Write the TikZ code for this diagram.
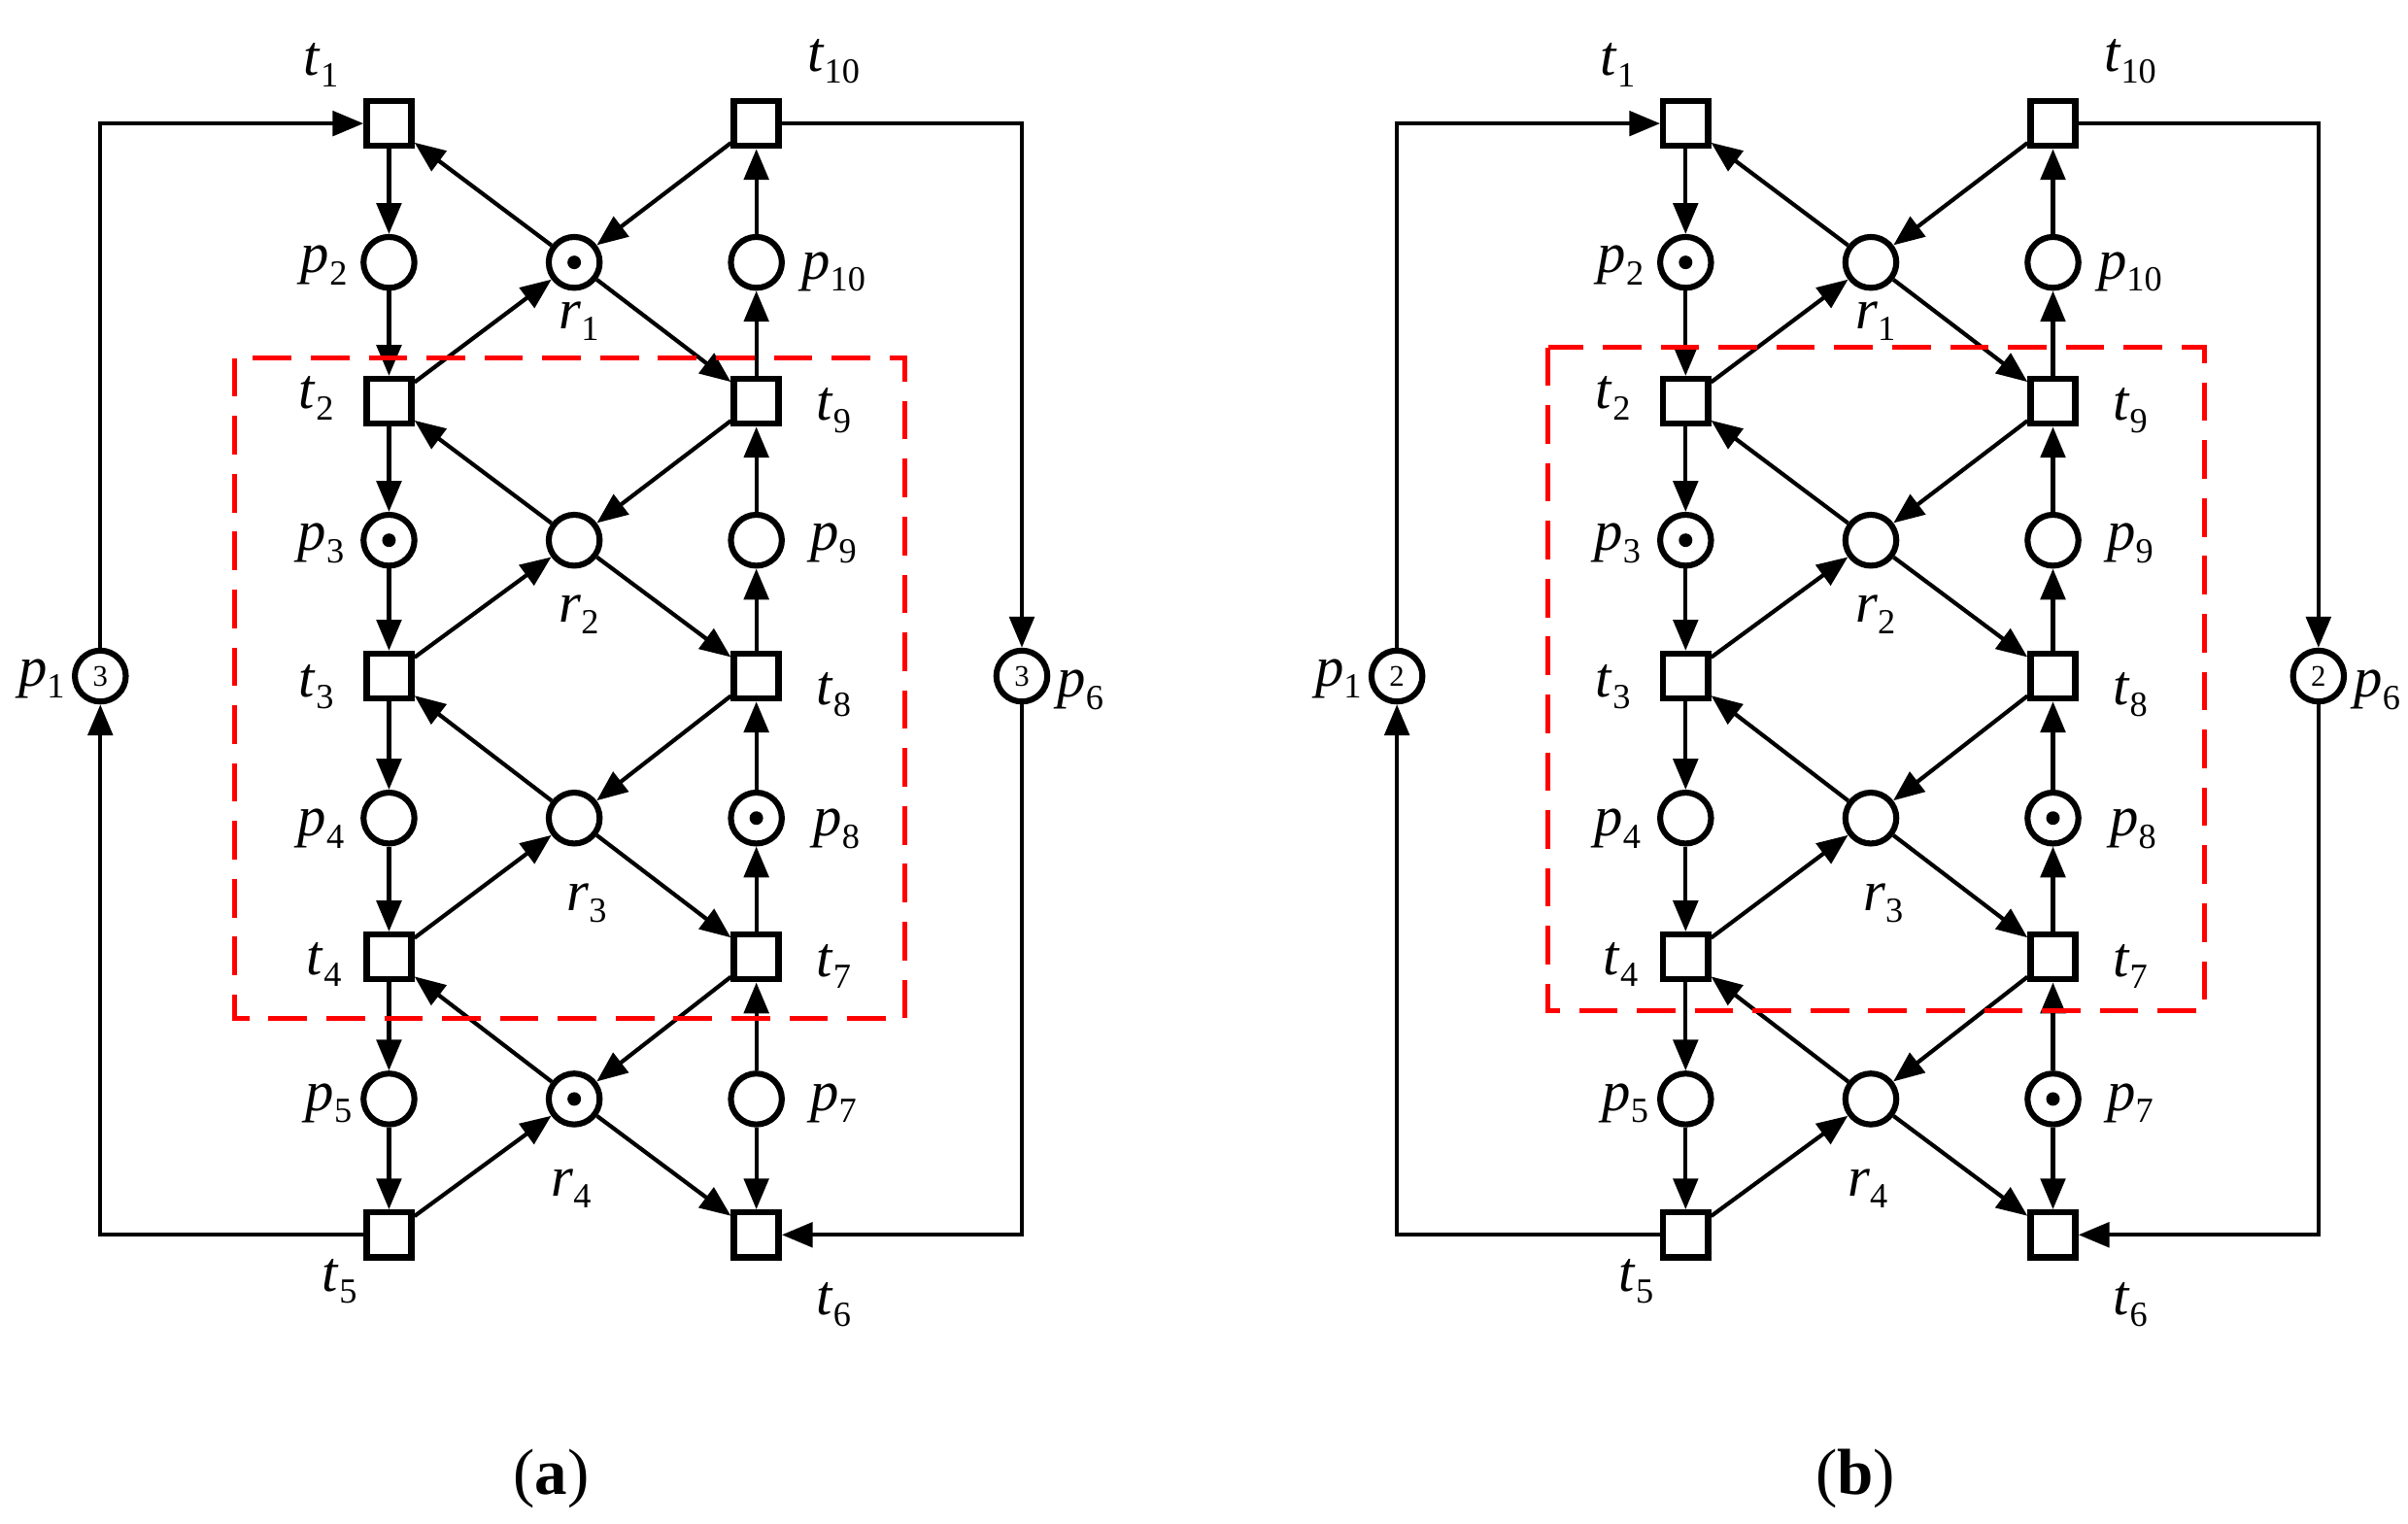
\documentclass[tikz,border=0pt]{standalone}
\usepackage{fontspec}
\setmainfont{Liberation Serif}
\usetikzlibrary{arrows.meta}
\newcommand\lab[2]{\textit{#1}\raisebox{-0.45ex}{\fontsize{13}{14}\selectfont #2}}
\tikzset{
  tr/.style={draw,line width=2.3pt,minimum size=0.58cm,inner sep=0pt,fill=white},
  pl/.style={draw,circle,line width=2.2pt,minimum size=0.66cm,inner sep=0pt,fill=white},
  arc/.style={line width=1.5pt,-{Triangle[length=0.4cm,width=0.32cm]}},
  lb/.style={font=\fontsize{21}{24}\selectfont},
  box/.style={red,line width=1.8pt,dash pattern=on 0.5cm off 0.25cm},
}
\newcommand\mypanel[8]{%
\begin{scope}[xshift=#2*0.02cm]
\foreach \n/\x/\y in {t1/252/80,t10/490/80,t2/252/260,t9/490/260,t3/252/438,t8/490/438,t4/252/620,t7/490/620,t5/252/800,t6/490/800}
  \node[tr] (#1\n) at (\x,\y) {};
\foreach \n/\x/\y in {p2/252/170,r1/372/170,p10/490/170,p3/252/350,r2/372/350,p9/490/350,p4/252/530,r3/372/530,p8/490/530,p5/252/712,r4/372/712,p7/490/712}
  \node[pl] (#1\n) at (\x,\y) {};
\node[pl] (#1p1) at (65,438) {\fontsize{11}{12}\selectfont #3};
\node[pl] (#1p6) at (662,438) {\fontsize{11}{12}\selectfont #3};
\foreach \k in {#4} \fill (#1\k) circle[radius=2.5pt];
\foreach \a/\b in {t1/p2,p2/t2,t2/p3,p3/t3,t3/p4,p4/t4,t4/p5,p5/t5,p7/t6,p7/t7,t7/p8,p8/t8,t8/p9,p9/t9,t9/p10,p10/t10,r1/t1,r1/t9,t10/r1,t2/r1,r2/t2,r2/t8,t9/r2,t3/r2,r3/t3,r3/t7,t8/r3,t4/r3,r4/t4,r4/t6,t7/r4,t5/r4}
  \draw[arc] (#1\a) -- (#1\b);
\draw[arc] (#1t5.west) -| (#1p1);
\draw[arc] (#1p1) |- (#1t1.west);
\draw[arc] (#1t10.east) -| (#1p6);
\draw[arc] (#1p6) |- (#1t6.east);
\draw[box] (#5,#6) rectangle (#7,#8);
\foreach \n/\s/\x/\y in {t/1/208/42,t/10/540/40,p/2/210/172,p/10/540/176,t/2/205/258,t/9/540/266,p/3/208/352,p/9/540/352,t/3/205/445,t/8/540/450,p/4/208/537,p/8/542/537,t/4/210/625,t/7/540/626,p/5/213/715,p/7/540/715,t/5/220/830,t/6/540/845,r/1/375/208,r/2/375/398,r/3/380/585,r/4/370/770,p/1/27/440,p/6/700/447}
  \node[lb] (#1L\n\s) at (\x,\y) {\lab{\n}{\s}};
\end{scope}}
\begin{document}
\begin{tikzpicture}[x=0.02cm,y=-0.02cm]
\path[use as bounding box] (0,0) rectangle (1560,987);
\mypanel{a}{0}{3}{r1,p3,p8,r4}{152}{232}{586}{660}
\mypanel{b}{840}{2}{p2,p3,p8,p7}{163}{225}{588}{655}
\node[font=\fontsize{24}{28}\selectfont] (capa) at (357,958) {(\textbf{a})};
\node[font=\fontsize{24}{28}\selectfont] (capb) at (1202,958) {(\textbf{b})};
\end{tikzpicture}
\end{document}
